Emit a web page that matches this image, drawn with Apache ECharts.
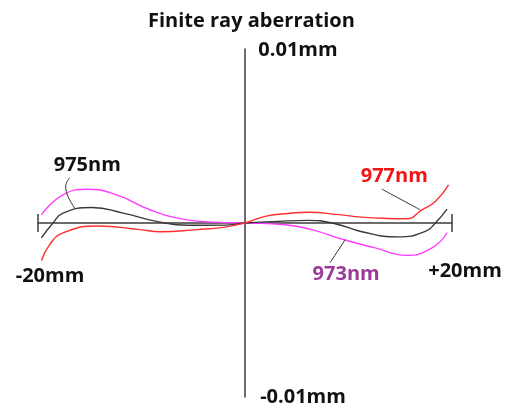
<!DOCTYPE html>
<html>
<head>
<meta charset="utf-8">
<script src="https://cdn.jsdelivr.net/npm/echarts@6/dist/echarts.min.js"></script>
<style>
  html, body { margin: 0; padding: 0; background: #fff; }
  #chart { width: 510px; height: 405px; }
</style>
</head>
<body>
<div id="chart"></div>
<script>
// Transverse ray aberration (mm) versus pupil coordinate (mm) at three wavelengths
const wavelengths = ['973nm', '975nm', '977nm'];

const pupil973 = [-19.67, -17.58, -15.2, -12.41, -9.19, -6.0, -3.0, 0, 3.87, 6.45, 9.5, 12.58, 15.6, 18.06, 19.52];
const aberr973 = [0.00047, 0.00162, 0.00194, 0.00162, 0.00076, 0.00022, 0.00005, 0, -0.0001, -0.00038, -0.00095, -0.00143, -0.00186, -0.00143, -0.00056];

const pupil975 = [-19.67, -18.55, -17.58, -14.8, -11.78, -8.54, -5.5, -2.0, 0, 3.19, 6.0, 8.71, 11.29, 14.8, 17.42, 18.39, 19.52];
const aberr975 = [-0.00086, 0, 0.00057, 0.00089, 0.00057, 0.00009, -0.00013, -0.00012, 0, 0.00009, 0.00015, -0.00004, -0.0005, -0.0008, -0.00048, 0, 0.0008];

const pupil977 = [-19.67, -18.87, -17.58, -14.2, -10.16, -8.2, -4.67, -2.1, 0, 1.94, 3.87, 6.2, 9.03, 11.29, 13.8, 15.6, 17.1, 18.39, 19.67];
const aberr977 = [-0.00216, -0.00124, -0.00057, -0.00017, -0.00038, -0.0005, -0.00038, -0.00025, 0, 0.00038, 0.00053, 0.00062, 0.00048, 0.00034, 0.00026, 0.00024, 0.00076, 0.00124, 0.00219];

// Axis extents and their end labels
const pupilRange = [-20, 20];
const pupilLabels = ['-20mm', '+20mm'];
const aberrRange = [-0.01, 0.01];
const aberrLabels = ['-0.01mm', '0.01mm'];

// Curve name callouts: label anchor and leader line, in data units
const callout975 = { at: [-15.24, 0.0033], leader: [[-16.93, 0.0026], [-17.32, 0.00213], [-17.1, 0.00152], [-16.45, 0.00086]] };
const callout977 = { at: [14.42, 0.00271], leader: [[13.21, 0.00195], [16.93, 0.00076]] };
const callout973 = { at: [9.77, -0.00296], leader: [[9.68, -0.00096], [8.22, -0.00228]] };

const zip = (xs, ys) => xs.map((x, i) => [x, ys[i]]);

const FONT = '"Open Sans", "Noto Sans", sans-serif';
const LABEL_SIZE = 20;
const colors = { '973nm': '#ff3cff', '975nm': '#3a3a3a', '977nm': '#ff3030' };
const labelColors = { '973nm': '#9c3a98', '975nm': '#111111', '977nm': '#f01414' };

const textStyle = (color) => ({
  fontFamily: FONT, fontWeight: 'bold', fontSize: LABEL_SIZE, color, opacity: 1
});

function curve(name, data) {
  return {
    name, type: 'line', data, smooth: 0.5, symbol: 'none',
    lineStyle: { color: colors[name], width: 1.4 }, z: 3
  };
}

// Text anchored on a data point, shifted by a pixel offset
function anchoredText(points, color) {
  return {
    type: 'scatter', symbolSize: 1, silent: true,
    itemStyle: { color: 'rgba(0,0,0,0)', opacity: 1 },
    data: points.map(p => ({
      value: p.value,
      label: { formatter: p.text, offset: p.offset || [0, 0] }
    })),
    label: Object.assign({ show: true, position: 'inside' }, textStyle(color)),
    z: 6
  };
}

function callout(name, c) {
  return [
    {
      type: 'line', data: c.leader, smooth: 0.4, symbol: 'none', silent: true,
      lineStyle: { color: '#333', width: 1 }, z: 4
    },
    anchoredText([{ value: c.at, text: name }], labelColors[name])
  ];
}

const chart = echarts.init(document.getElementById('chart'), null, { renderer: 'canvas' });

chart.setOption({
  animation: false,
  backgroundColor: '#ffffff',
  title: {
    text: 'Finite ray aberration',
    left: 143, top: 6,
    textStyle: { fontFamily: FONT, fontWeight: 'bold', fontSize: 20, color: '#111' }
  },
  grid: { left: 38, right: 58, top: 49, bottom: 8 },
  xAxis: {
    type: 'value', min: pupilRange[0], max: pupilRange[1],
    axisLine: { onZero: true, lineStyle: { color: '#3c3c3c', width: 1.5 } },
    axisTick: { show: false }, axisLabel: { show: false }, splitLine: { show: false }
  },
  yAxis: {
    type: 'value', min: aberrRange[0], max: aberrRange[1], interval: 0.01,
    axisLine: { onZero: true, lineStyle: { color: '#3c3c3c', width: 1.5 } },
    axisTick: { show: false }, splitLine: { show: false }, axisLabel: { show: false }
  },
  series: [
    curve('973nm', zip(pupil973, aberr973)),
    curve('975nm', zip(pupil975, aberr975)),
    curve('977nm', zip(pupil977, aberr977)),
    // end ticks on the pupil axis
    {
      type: 'scatter', symbol: 'rect', symbolSize: [1.5, 18], silent: true,
      itemStyle: { color: '#3c3c3c', opacity: 1 },
      data: [[pupilRange[0], 0], [pupilRange[1], 0]], z: 6
    },
    // axis end labels
    anchoredText([
      { value: [pupilRange[0], 0], text: pupilLabels[0], offset: [12, 53] },
      { value: [pupilRange[1], 0], text: pupilLabels[1], offset: [13, 48] },
      { value: [0, aberrRange[1]], text: aberrLabels[1], offset: [53, 1] },
      { value: [0, aberrRange[0]], text: aberrLabels[0], offset: [58, 0] }
    ], '#111'),
    ...callout('975nm', callout975),
    ...callout('977nm', callout977),
    ...callout('973nm', callout973)
  ]
});
</script>
</body>
</html>
